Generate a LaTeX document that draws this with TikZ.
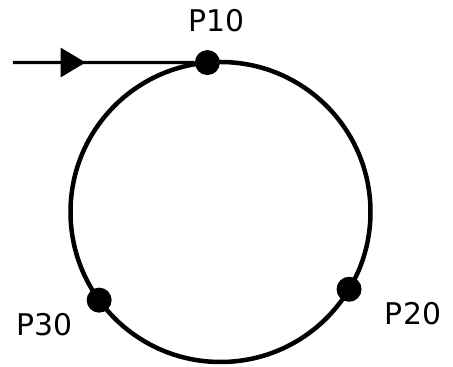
\documentclass[tikz,border=0pt]{standalone}
\usepackage{fontspec}
\setmainfont{DejaVu Sans}
\usetikzlibrary{arrows.meta, positioning, decorations.markings}

\begin{document}
\begin{tikzpicture}[>=Stealth,
    spot/.style={circle, fill=black, inner sep=0pt, minimum size=0.5cm},
    ptext/.style={font=\fontsize{17}{20}\selectfont}]
  \useasboundingbox (-4.41,-3.10) rectangle (4.65,4.24);

  % Ring with the three points on it
  \draw[line width=0.09cm] (0,0) circle (3cm);
  \node[spot] (p10) at (95:3) {};
  \node[spot] (p20) at (-31:3) {};
  \node[spot] (p30) at (-144:3) {};

  % Point names
  \node[ptext] (t10) at (-0.07,3.82) {P10};
  \node[ptext] (t20) at (3.85,-2.04) {P20};
  \node[ptext] (t30) at (-3.51,-2.26) {P30};

  % Incoming feed line
  \coordinate (feed) at (-4.15,2.99);
  \draw[line width=0.065cm, postaction={decorate},
        decoration={markings, mark=at position 0.4 with
          {\arrow{Triangle[length=0.5cm, width=0.58cm]}}}]
    (feed) -- (p10);
\end{tikzpicture}
\end{document}
